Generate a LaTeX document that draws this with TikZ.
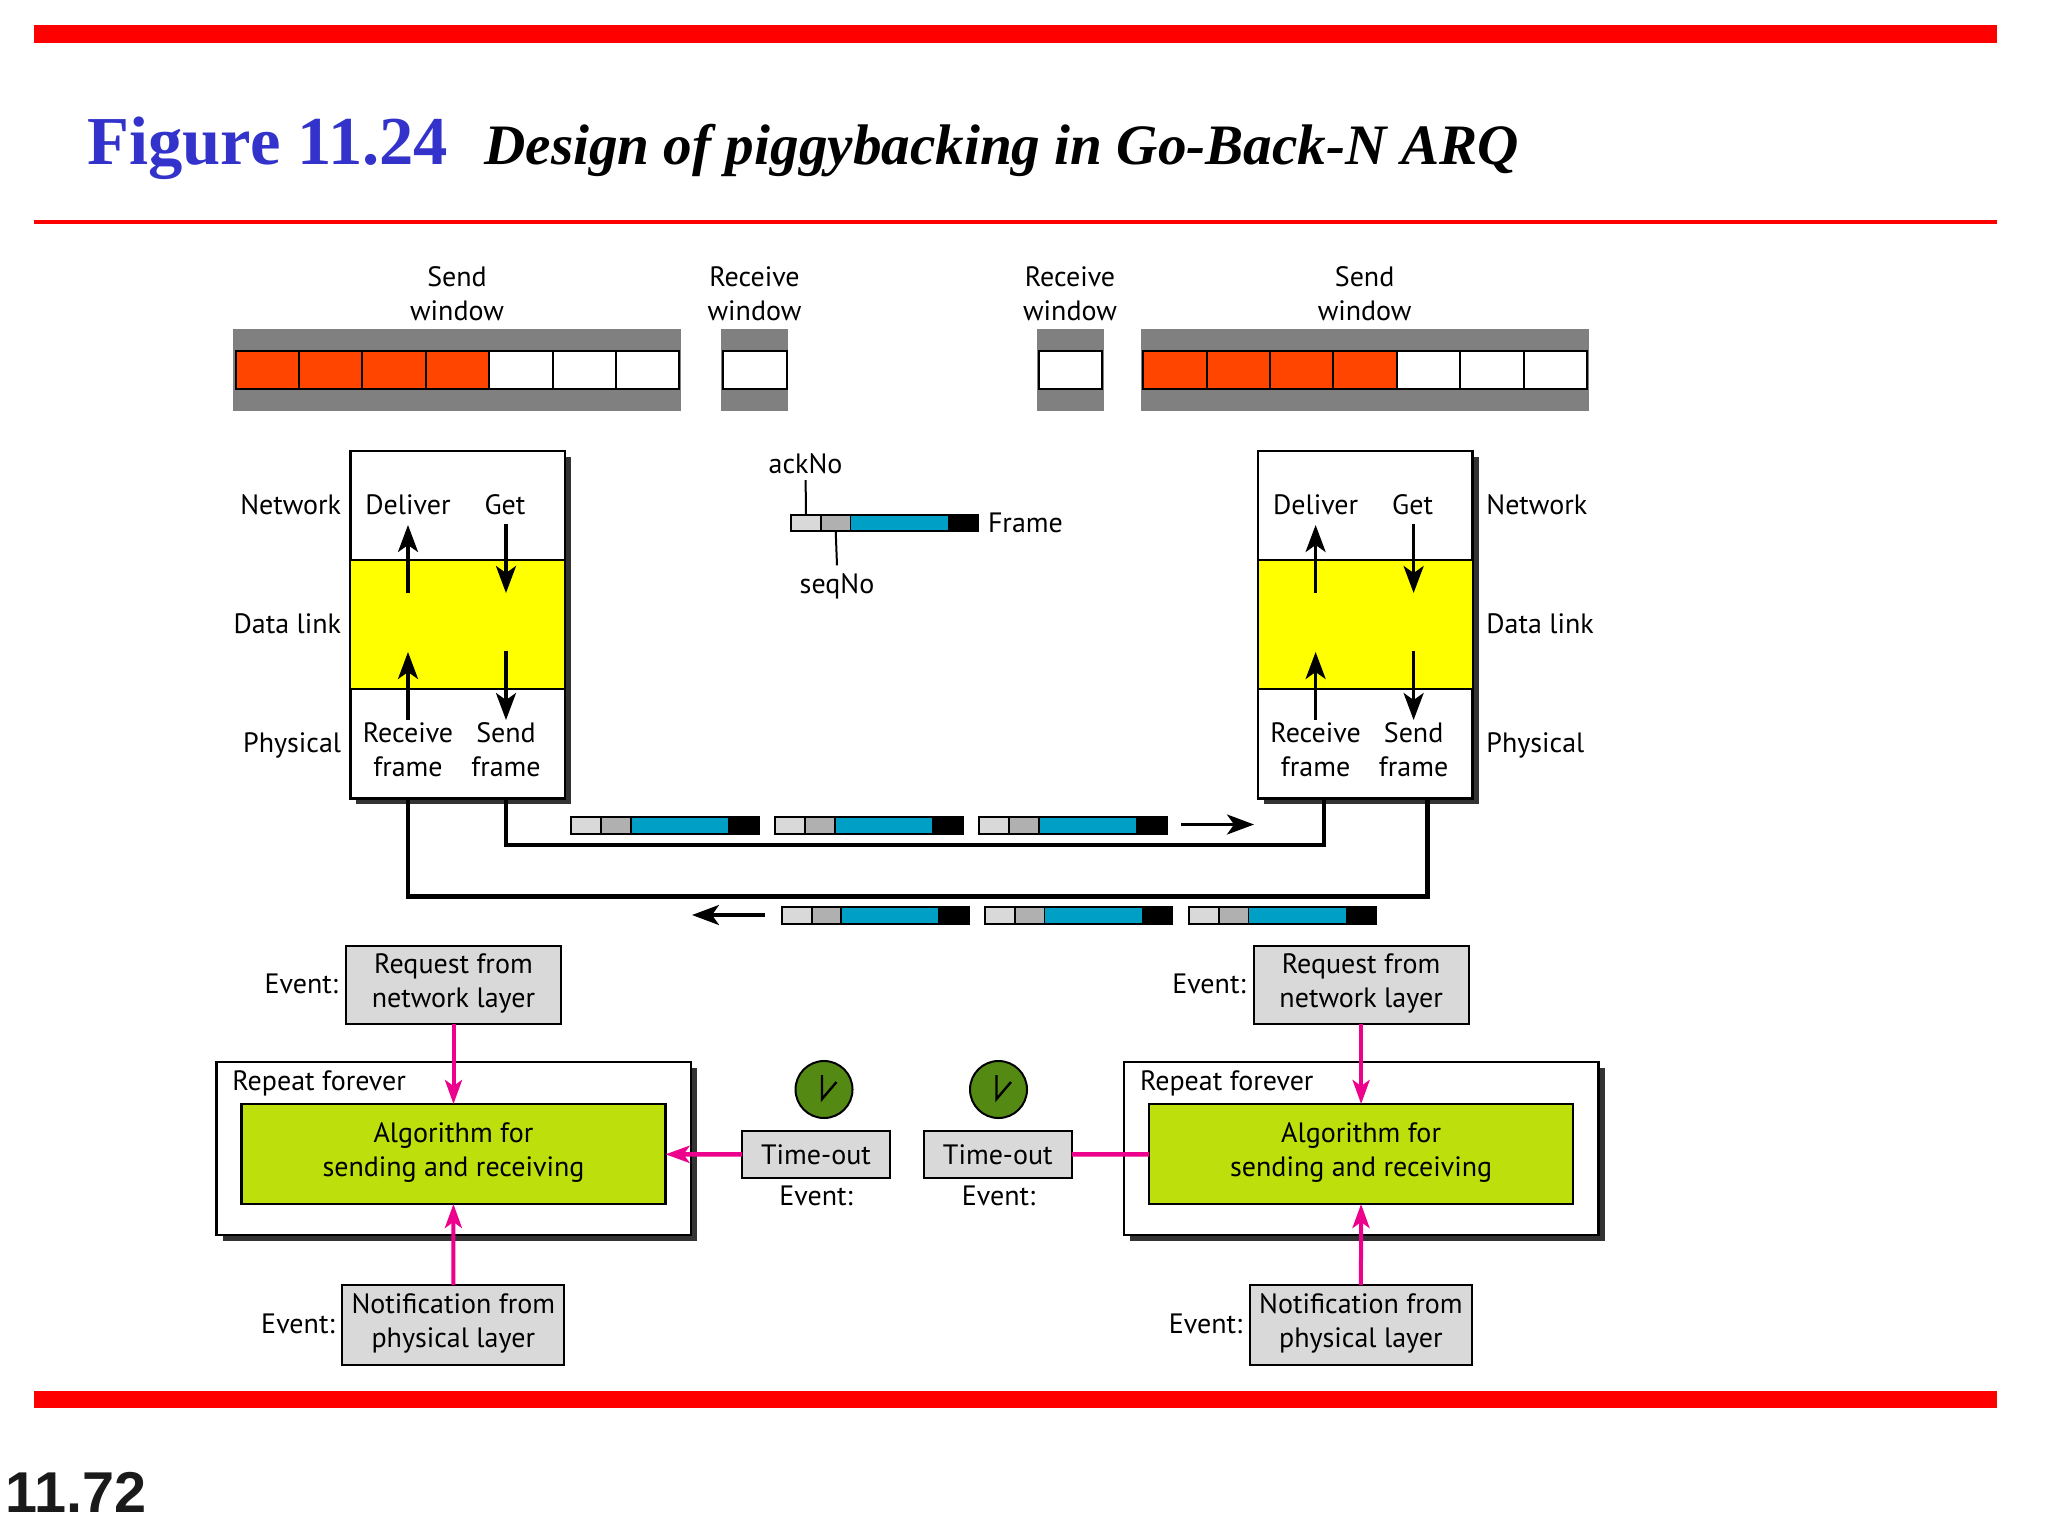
\documentclass[tikz,border=0pt]{standalone}
\usepackage{fontspec}
\setmainfont{PT Sans}
\newfontfamily\titlefont{Liberation Serif}
\newfontfamily\pagefont{Liberation Sans}
\usetikzlibrary{arrows.meta,shadows}
\definecolor{barred}{RGB}{255,0,0}
\definecolor{titleblue}{RGB}{51,51,204}
\definecolor{slotred}{RGB}{255,69,0}
\definecolor{wingray}{RGB}{128,128,128}
\definecolor{boxgray}{RGB}{217,217,217}
\definecolor{midgray}{RGB}{176,176,176}
\definecolor{paybl}{RGB}{0,160,198}
\definecolor{limegreen}{RGB}{189,223,12}
\definecolor{clockgreen}{RGB}{84,138,20}
\definecolor{evpink}{RGB}{236,0,140}
\definecolor{shade}{RGB}{51,51,51}
\definecolor{pagegray}{RGB}{26,26,26}
\definecolor{linkyellow}{RGB}{255,255,0}
\newcommand{\txstrut}{\rule[-4.2pt]{0pt}{18.2pt}}
\newcommand{\boxstrut}{\rule{0pt}{16.6pt}}
\newcommand{\txfont}{\fontsize{14}{17}\selectfont\lineskiplimit=-6pt\relax}
\tikzset{
  txt/.style={font=\txfont,align=center,inner sep=0pt,
    execute at begin node=\txstrut,execute at end node=\txstrut},
  twoline/.style={execute at begin node=\boxstrut},
  plain/.style={inner sep=0pt,outer sep=0pt},
  bar/.style={plain,fill=barred},
  wingrey/.style={plain,fill=wingray,minimum height=41pt},
  slot/.style={plain,draw=black,line width=1pt,minimum width=31.7pt,minimum height=18.6pt},
  stackbox/.style={plain,draw=black,line width=1.2pt,fill=white,minimum width=107.3pt,
    drop shadow={shadow xshift=3pt,shadow yshift=-3pt,fill=shade,opacity=1}},
  linkband/.style={plain,draw=black,line width=.6pt,fill=linkyellow,minimum width=107.3pt,minimum height=64.5pt},
  stackarrow/.style={line width=1.6pt,-{Stealth[length=13.5pt,width=10pt,inset=3.5pt]}},
  wire/.style={line width=2.4pt},
  pkt/.style={plain,draw=black,line width=.9pt,anchor=west},
  evbox/.style={plain,draw=black,line width=1pt,fill=boxgray,txt},
  algobox/.style={plain,draw=black,line width=1.2pt,fill=limegreen,txt,twoline,minimum width=212pt,minimum height=50pt},
  foreverbox/.style={stackbox,minimum width=237.2pt,minimum height=86.5pt},
  evarrow/.style={draw=evpink,fill=evpink,line width=2pt,-{Stealth[length=12pt,width=8.5pt,inset=3pt]}},
  evline/.style={draw=evpink,line width=2.3pt},
}
\begin{document}
\begin{tikzpicture}[x=0.5pt,y=-0.5pt]
\useasboundingbox (0,0) rectangle (2048,1536);
\node[bar,minimum width=981.5pt,minimum height=8.7pt] (topbar) at (1015.5,34) {};
\node[bar,minimum width=981.5pt,minimum height=2.2pt] (rulebar) at (1015.5,222) {};
\node[bar,minimum width=981.5pt,minimum height=8.7pt] (botbar) at (1015.5,1399.3) {};
\node[inner sep=0pt,anchor=base west,text=titleblue,font=\titlefont\bfseries\fontsize{34.3}{40}\selectfont] (figno) at (87,164) {Figure 11.24};
\node[inner sep=0pt,anchor=base west,font=\titlefont\bfseries\itshape\fontsize{28.6}{34}\selectfont] (figtitle) at (484,164) {Design of piggybacking in Go-Back-N ARQ};
\node[inner sep=0pt,anchor=base west,text=pagegray,font=\pagefont\bfseries\fontsize{28.8}{32}\selectfont] (pageno) at (5,1512) {11.72};

\foreach \sd/\dx in {L/0pt,R/453.8pt}{
\begin{scope}[xshift=\dx]
\node[txt] (sendcap\sd) at (457,297.5) {Send\\window};
\node[wingrey,minimum width=224pt] (sendbar\sd) at (457.4,370) {};
\foreach \i in {0,...,3}
  \node[slot,fill=slotred] (slot\sd\i) at ({267.3+63.4*\i},370) {};
\foreach \i in {4,...,6}
  \node[slot,fill=white] (slot\sd\i) at ({267.3+63.4*\i},370) {};
\node[stackbox,minimum height=173.8pt] (stack\sd) at (457.7,624.5) {};
\node[linkband] (link\sd) at (457.7,624.5) {};
\node[txt] (deliver\sd) at (408,505) {Deliver};
\node[txt] (get\sd) at (505,505) {Get};
\node[txt] (recv\sd) at (408,754) {Receive\\frame};
\node[txt] (send\sd) at (506,754) {Send\\frame};
\foreach \nm/\xa/\ya/\yb in {dl/408/593/525,gt/506/524/593,rv/408/720/652,sn/506/651/720}{
  \coordinate (\sd\nm a) at (\xa,\ya);
  \coordinate (\sd\nm b) at (\xa,\yb);
  \draw[stackarrow] (\sd\nm a) -- (\sd\nm b);
}
\node[txt,anchor=east] (evreq\sd) at (338.4,984) {Event:};
\node[evbox,twoline,minimum width=107.5pt,minimum height=39pt] (req\sd) at (453.5,985) {Request from\\network layer};
\node[foreverbox] (forever\sd) at (453.8,1148.5) {};
\node[txt,anchor=west] (repeat\sd) at (232,1081) {Repeat forever};
\node[algobox] (algo\sd) at (453.5,1154) {Algorithm for\\sending and receiving};
\node[txt,anchor=east] (evnot\sd) at (335,1324) {Event:};
\node[evbox,twoline,minimum width=111pt,minimum height=40pt] (notif\sd) at (453.3,1325) {Notification from\\physical layer};
\draw[evarrow] (req\sd) -- (algo\sd);
\draw[evarrow] (notif\sd) -- (algo\sd);
\end{scope}
}

\node[wingrey,minimum width=33.5pt] (recvbarL) at (754.5,370) {};
\node[slot,fill=white] (recvslotL) at (755,370) {};
\node[txt] (recvcapL) at (754.5,297.5) {Receive\\window};
\node[wingrey,minimum width=33.5pt] (recvbarR) at (1070,370) {};
\node[slot,fill=white] (recvslotR) at (1070.5,370) {};
\node[txt] (recvcapR) at (1070,297.5) {Receive\\window};

\node[txt,anchor=east] (netL) at (341.5,505) {Network};
\node[txt,anchor=east] (dataL) at (341.5,623.5) {Data link};
\node[txt,anchor=east] (physL) at (341.5,743) {Physical};
\node[txt,anchor=west] (netR) at (1486,505) {Network};
\node[txt,anchor=west] (dataR) at (1486,623.5) {Data link};
\node[txt,anchor=west] (physR) at (1486,743) {Physical};

\foreach \fr/\fx/\fy in {mid/791/523,ta/571.3/825.5,tb/775.3/825.5,tc/979.3/825.5,ba/781.6/915.5,bb/985/915.5,bc/1189/915.5}{
  \node[pkt,fill=boxgray,minimum width=15pt,minimum height=8.2pt] (\fr a) at (\fx,\fy) {};
  \node[pkt,fill=midgray,minimum width=14.7pt,minimum height=8.2pt] (\fr b) at (\fr a.east) {};
  \node[pkt,fill=paybl,minimum width=49pt,minimum height=8.2pt] (\fr c) at (\fr b.east) {};
  \node[pkt,fill=black,minimum width=15pt,minimum height=8.2pt] (\fr d) at (\fr c.east) {};
}
\node[txt] (ackno) at (805.6,463.5) {ackNo};
\node[txt] (seqno) at (837,584) {seqNo};
\node[txt,anchor=west] (framecap) at (987.6,523) {Frame};
\draw[line width=1pt] ([yshift=1pt]ackno.south) -- (mida.north);
\draw[line width=1pt] (midb.south) -- (seqno.north);

\coordinate (wa) at (506,845);
\coordinate (wb) at (1324,845);
\coordinate (wc) at (408,896.6);
\coordinate (wd) at (1427.5,896.6);
\draw[wire] (stackL.south -| wa) -- (wa) -- (wb) -- (stackR.south -| wb);
\draw[wire] (stackL.south -| wc) -- (wc) -- (wd) -- (stackR.south -| wd);
\coordinate (goa) at (1181.4,824.5);
\coordinate (gob) at (1254,824.5);
\coordinate (bka) at (765,915);
\coordinate (bkb) at (692,915);
\draw[stackarrow] (goa) -- (gob);
\draw[stackarrow] (bka) -- (bkb);

\foreach \sd/\ck/\tm/\ev in {L/824/816/816,R/998.5/997.8/998.5}{
  \node[plain,circle,draw=black,line width=1pt,fill=clockgreen,minimum size=28.5pt] (clock\sd) at (\ck,1089.5) {};
  \draw[line width=1.2pt] ([shift={(-2,-14.5)}]clock\sd.center) -- ([shift={(-2,9.5)}]clock\sd.center) -- ([shift={(12.5,-7.5)}]clock\sd.center);
  \node[evbox,minimum width=74pt,minimum height=23.5pt] (tmout\sd) at (\tm,1154.5) {Time-out};
  \node[txt] (evtm\sd) at (\ev,1196) {Event:};
}
\draw[evarrow,line width=2.3pt] (tmoutL) -- (algoL);
\draw[evline] (tmoutR) -- (algoR);
\end{tikzpicture}
\end{document}
